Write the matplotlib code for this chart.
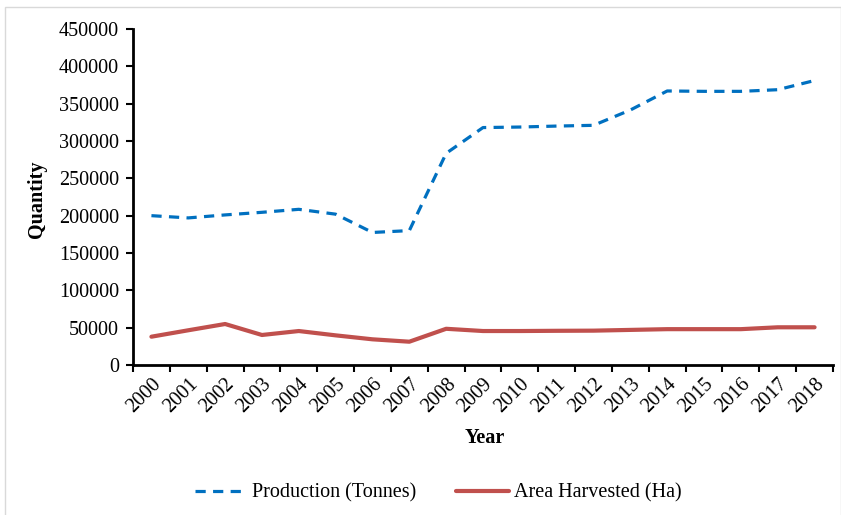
import matplotlib
matplotlib.use('Agg')
import matplotlib.pyplot as plt
from matplotlib.patches import Rectangle

years = [str(y) for y in range(2000, 2019)]
production = [200000, 197000, 201000, 204500, 208500, 202000, 177500, 180000, 283500,
              318000, 318700, 320000, 321000, 341500, 367000, 366500, 366500, 368700, 381000]
area = [37900, 46500, 54900, 40200, 45500, 39700, 34400, 31200, 48500,
        45500, 45500, 45800, 46000, 47000, 48000, 48000, 48000, 50500, 50500]

plt.rcParams['font.family'] = ['Liberation Serif', 'DejaVu Serif']

fig = plt.figure(figsize=(8.41, 5.15), dpi=100)
ax = fig.add_axes([133 / 841, 1 - 365 / 515, 700 / 841, 336 / 515])

x = list(range(len(years)))
ax.plot(x, production, color='#0070C0', lw=2.3, dashes=(3.2, 2.3), solid_capstyle='round',
        dash_capstyle='butt', label='Production (Tonnes)')
ax.plot(x, area, color='#C0504D', lw=3.0, solid_capstyle='round', solid_joinstyle='round',
        label='Area Harvested (Ha)')

ax.set_xlim(-0.5, len(years) - 0.5)
ax.set_ylim(0, 450000)
ax.set_yticks(range(0, 450001, 50000))
ax.set_yticklabels([str(v) for v in range(0, 450001, 50000)])

# category boundaries get the tick marks, labels sit at category centres
ax.set_xticks([i - 0.5 for i in range(len(years) + 1)])
ax.set_xticklabels([])
ax.set_xticks(x, minor=True)
ax.set_xticklabels(years, minor=True, rotation=45, ha='right', rotation_mode='anchor')
ax.tick_params(axis='x', which='minor', length=0, pad=7, labelsize=14.5)
ax.tick_params(axis='x', which='major', length=5, width=1.5, direction='out')
ax.tick_params(axis='y', length=5, width=1.5, direction='out', pad=5, labelsize=14.5)

for s in ['top', 'right']:
    ax.spines[s].set_visible(False)
for s in ['left', 'bottom']:
    ax.spines[s].set_linewidth(2)
    ax.spines[s].set_color('black')

fig.text(37 / 841, 1 - 199 / 515, 'Quantity', rotation=90, ha='center', va='center',
         fontsize=14.5, fontweight='bold')
fig.text(485 / 841, 1 - 438 / 515, 'Year', ha='center', va='center',
         fontsize=14.5, fontweight='bold')

fig.legend(loc='center', bbox_to_anchor=(438 / 841, 1 - 493 / 515), ncol=2, frameon=False,
           fontsize=14.5, handlelength=2.6, columnspacing=2.0, handletextpad=0.25)

fig.add_artist(Rectangle((5 / 841, -0.01), 836 / 841, 1 - 7 / 515 + 0.01, transform=fig.transFigure,
                         fill=False, edgecolor='#d9d9d9', lw=1))

fig.savefig('out.png', dpi=100)
